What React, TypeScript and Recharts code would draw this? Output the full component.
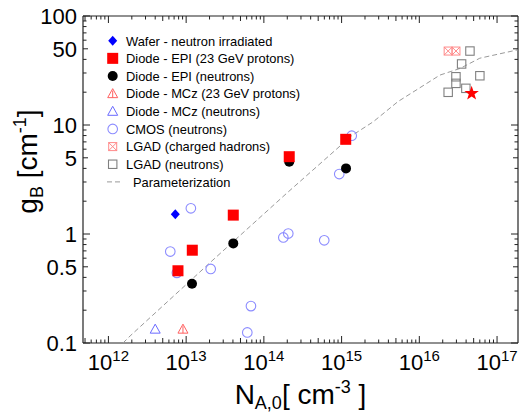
import React from 'react';
import { ScatterChart, Scatter, XAxis, YAxis, Legend, Label } from 'recharts';

const FONT = '"Liberation Sans", Arial, Helvetica, sans-serif';

// ---- data (N_A,0 [cm^-3], g_B [cm^-1]) ----
const waferData = [{ x: 7.25e12, y: 1.52 }];
const epiProtonData = [
  { x: 7.85e12, y: 0.46 },
  { x: 1.2e13, y: 0.71 },
  { x: 4.04e13, y: 1.49 },
  { x: 2.12e14, y: 5.12 },
  { x: 1.13e15, y: 7.39 },
];
const epiNeutronData = [
  { x: 1.19e13, y: 0.35 },
  { x: 4.04e13, y: 0.82 },
  { x: 2.12e14, y: 4.6 },
  { x: 1.14e15, y: 4.0 },
];
const mczProtonData = [{ x: 9.1e12, y: 0.134 }];
const mczNeutronData = [{ x: 4.0e12, y: 0.134 }];
const cmosData = [
  { x: 1.15e13, y: 1.72 },
  { x: 6.25e12, y: 0.69 },
  { x: 7.6e12, y: 0.44 },
  { x: 2.07e13, y: 0.478 },
  { x: 6.82e13, y: 0.218 },
  { x: 6.12e13, y: 0.125 },
  { x: 1.78e14, y: 0.93 },
  { x: 2.06e14, y: 1.01 },
  { x: 5.98e14, y: 0.875 },
  { x: 9.33e14, y: 3.55 },
  { x: 1.35e15, y: 7.98 },
];
const lgadChargedData = [
  { x: 2.35e16, y: 47.7 },
  { x: 2.96e16, y: 47.7 },
];
const lgadNeutronData = [
  { x: 4.48e16, y: 47.7 },
  { x: 3.5e16, y: 36.3 },
  { x: 2.96e16, y: 27.7 },
  { x: 2.96e16, y: 24.1 },
  { x: 6.01e16, y: 28.3 },
  { x: 2.35e16, y: 19.95 },
  { x: 3.97e16, y: 21.7 },
];
const starData = [{ x: 4.71e16, y: 19.5 }];
const paramData = [
  { x: 1.54e12, y: 0.1 },
  { x: 1.9e12, y: 0.116 },
  { x: 2.21e13, y: 0.577 },
  { x: 1.96e14, y: 2.36 },
  { x: 1.35e15, y: 7.98 },
  { x: 2.55e15, y: 10.7 },
  { x: 5.31e15, y: 16.4 },
  { x: 1.84e16, y: 28.7 },
  { x: 3.33e16, y: 33.0 },
  { x: 6.0e16, y: 41.0 },
  { x: 1.86e17, y: 49.0 },
];

// ---- axes ----
const xDomain = [4.71e11, 1.86e17];
const yDomain = [0.1, 100];
const xDecades = [1e11, 1e12, 1e13, 1e14, 1e15, 1e16, 1e17];
const yDecades = [0.1, 1, 10, 100];
const minorMultipliers = [1, 2, 3, 4, 5, 6, 7, 8, 9];
const yLabelTicks = [0.1, 0.5, 1, 5, 10, 50, 100];
const yLabels = ['0.1', '0.5', '1', '5', '10', '50', '100'];

const xTicks = xDecades
  .flatMap((d) => minorMultipliers.map((m) => m * d))
  .filter((v) => v >= xDomain[0] * 0.999 && v <= xDomain[1] * 1.001);
const yTicks = yDecades
  .flatMap((d) => minorMultipliers.map((m) => m * d))
  .filter((v) => v >= yDomain[0] * 0.999 && v <= yDomain[1] * 1.001);

const isDecade = (v: number) => Math.abs(Math.log10(v) - Math.round(Math.log10(v))) < 1e-6;
const isFive = (v: number) => {
  const m = v / Math.pow(10, Math.floor(Math.log10(v) + 1e-9));
  return Math.abs(m - 5) < 1e-6;
};
const tickLen = (v: number) => (isDecade(v) ? 7 : isFive(v) ? 5 : 3.5);
const AXIS_COLOR = '#222';

const XTickBottom = (props: any) => {
  const { x, y, payload } = props;
  const v = payload.value;
  const len = tickLen(v);
  const exp = Math.round(Math.log10(v));
  return (
    <g>
      <line x1={x} x2={x} y1={y} y2={y - len} stroke={AXIS_COLOR} strokeWidth={1} />
      {isDecade(v) && (
        <text x={x} y={y + 27} textAnchor="middle" fontSize={22} fontFamily={FONT} fill="#000">
          10
          <tspan dy={-9} fontSize={15}>{String(exp)}</tspan>
        </text>
      )}
    </g>
  );
};
const XTickTop = (props: any) => {
  const { x, y, payload } = props;
  const len = tickLen(payload.value);
  return <line x1={x} x2={x} y1={y} y2={y + len} stroke={AXIS_COLOR} strokeWidth={1} />;
};
const YTickLeft = (props: any) => {
  const { x, y, payload } = props;
  const v = payload.value;
  const len = tickLen(v);
  const idx = yLabelTicks.findIndex((t) => Math.abs(t - v) / t < 1e-6);
  return (
    <g>
      <line x1={x} x2={x + len} y1={y} y2={y} stroke={AXIS_COLOR} strokeWidth={1} />
      {idx >= 0 && (
        <text x={x - 6} y={y + 8} textAnchor="end" fontSize={22} fontFamily={FONT} fill="#000">
          {yLabels[idx]}
        </text>
      )}
    </g>
  );
};
const YTickRight = (props: any) => {
  const { x, y, payload } = props;
  const len = tickLen(payload.value);
  return <line x1={x} x2={x - len} y1={y} y2={y} stroke={AXIS_COLOR} strokeWidth={1} />;
};

// ---- marker shapes ----
const diamondShape = (cx: number, cy: number) => (
  <path d={`M${cx},${cy - 5} L${cx + 4.5},${cy} L${cx},${cy + 5} L${cx - 4.5},${cy} Z`} fill="#0000ff" />
);
const redSquareShape = (cx: number, cy: number) => (
  <rect x={cx - 5.5} y={cy - 5.5} width={11} height={11} fill="#ff0000" />
);
const blackDotShape = (cx: number, cy: number) => <circle cx={cx} cy={cy} r={5} fill="#000" />;
const triRedShape = (cx: number, cy: number) => (
  <g>
    <path d={`M${cx},${cy - 5} L${cx + 5},${cy + 4} L${cx - 5},${cy + 4} Z`} fill="none" stroke="#ff6060" strokeWidth={1} />
    <line x1={cx} x2={cx} y1={cy - 3} y2={cy + 4} stroke="#ff6060" strokeWidth={1} />
  </g>
);
const triBlueShape = (cx: number, cy: number) => (
  <path d={`M${cx},${cy - 5} L${cx + 5},${cy + 4} L${cx - 5},${cy + 4} Z`} fill="none" stroke="#6a6aff" strokeWidth={1} />
);
const cmosShape = (cx: number, cy: number) => (
  <circle cx={cx} cy={cy} r={4.8} fill="none" stroke="#8c8cff" strokeWidth={1.1} />
);
const lgadChargedShape = (cx: number, cy: number) => (
  <g stroke="#ff8a8a" strokeWidth={1} fill="none">
    <rect x={cx - 4} y={cy - 4} width={8} height={8} />
    <line x1={cx - 4} y1={cy - 4} x2={cx + 4} y2={cy + 4} />
    <line x1={cx - 4} y1={cy + 4} x2={cx + 4} y2={cy - 4} />
  </g>
);
const lgadNeutronShape = (cx: number, cy: number) => (
  <rect x={cx - 4.2} y={cy - 4.2} width={8.4} height={8.4} fill="none" stroke="#808080" strokeWidth={1.1} />
);
const starShape = (cx: number, cy: number) => {
  const R = 7.6;
  const r = 3.0;
  const pts: string[] = [];
  for (let i = 0; i < 10; i++) {
    const rad = i % 2 === 0 ? R : r;
    const a = -Math.PI / 2 + (i * Math.PI) / 5;
    pts.push(`${cx + rad * Math.cos(a)},${cy + rad * Math.sin(a)}`);
  }
  return <polygon points={pts.join(' ')} fill="#ff0000" />;
};
const wrap = (fn: (cx: number, cy: number) => React.ReactElement) => (p: any) => fn(p.cx, p.cy);

// ---- legend ----
const legendItems = [
  { label: 'Wafer - neutron irradiated', shape: diamondShape },
  { label: 'Diode - EPI (23 GeV protons)', shape: redSquareShape },
  { label: 'Diode - EPI (neutrons)', shape: blackDotShape },
  { label: 'Diode - MCz (23 GeV protons)', shape: triRedShape },
  { label: 'Diode - MCz (neutrons)', shape: triBlueShape },
  { label: 'CMOS (neutrons)', shape: cmosShape },
  { label: 'LGAD (charged hadrons)', shape: lgadChargedShape },
  { label: 'LGAD (neutrons)', shape: lgadNeutronShape },
];
const paramLabel = 'Parameterization';

const LegendContent = () => {
  const x0 = 112.7;
  const y0 = 40.7;
  const dy = 17.65;
  return (
    <svg width={360} height={200} style={{ position: 'absolute', left: 0, top: 0, overflow: 'visible' }}>
      {legendItems.map((it, i) => (
        <g key={it.label}>
          {it.shape(x0, y0 + i * dy)}
          <text x={126} y={y0 + i * dy + 4.8} fontSize={12.9} fontFamily={FONT} fill="#000">
            {it.label}
          </text>
        </g>
      ))}
      <line
        x1={107}
        x2={123}
        y1={y0 + 8 * dy}
        y2={y0 + 8 * dy}
        stroke="#9a9a9a"
        strokeWidth={1}
        strokeDasharray="5 3"
      />
      <text x={133} y={y0 + 8 * dy + 4.8} fontSize={12.9} fontFamily={FONT} fill="#000">
        {paramLabel}
      </text>
    </svg>
  );
};

const XTitle = (props: any) => {
  const vb = props.viewBox || { x: 83, y: 343, width: 435 };
  return (
    <text x={vb.x + vb.width / 2} y={343 + 61} textAnchor="middle" fontSize={28} fontFamily={FONT} fill="#000">
      N
      <tspan dy={5} fontSize={18}>A,0</tspan>
      <tspan dy={-5}>[ cm</tspan>
      <tspan dy={-11} fontSize={18}>-3</tspan>
      <tspan dy={11}> ]</tspan>
    </text>
  );
};
const YTitle = (props: any) => {
  const vb = props.viewBox || { x: 83, y: 16, height: 327 };
  const cx = 37;
  const cy = vb.y + vb.height / 2 - 18;
  return (
    <text
      x={cx}
      y={cy}
      transform={`rotate(-90 ${cx} ${cy})`}
      textAnchor="middle"
      fontSize={28}
      fontFamily={FONT}
      fill="#000"
    >
      g
      <tspan dy={6} fontSize={18}>B</tspan>
      <tspan dy={-6}> [cm</tspan>
      <tspan dy={-11} fontSize={18}>-1</tspan>
      <tspan dy={11}>]</tspan>
    </text>
  );
};

export default function App() {
  return (
    <div style={{ position: 'absolute', left: 0, top: 0, width: 520, height: 414, background: '#fff' }}>
      <ScatterChart width={520} height={414} margin={{ top: 15, right: 1, bottom: 70, left: 82 }}>
        <XAxis
          xAxisId="b"
          type="number"
          dataKey="x"
          scale="log"
          domain={xDomain}
          allowDataOverflow
          ticks={xTicks}
          interval={0}
          height={1}
          tickSize={0}
          tickMargin={0}
          tickLine={false}
          tick={<XTickBottom />}
          axisLine={{ stroke: AXIS_COLOR, strokeWidth: 1.2 }}
        >
          <Label content={<XTitle />} />
        </XAxis>
        <XAxis
          xAxisId="t"
          orientation="top"
          type="number"
          dataKey="x"
          scale="log"
          domain={xDomain}
          allowDataOverflow
          ticks={xTicks}
          interval={0}
          height={1}
          tickSize={0}
          tickMargin={0}
          tickLine={false}
          tick={<XTickTop />}
          axisLine={{ stroke: AXIS_COLOR, strokeWidth: 1.2 }}
        />
        <YAxis
          yAxisId="l"
          type="number"
          dataKey="y"
          scale="log"
          domain={yDomain}
          allowDataOverflow
          ticks={yTicks}
          interval={0}
          width={1}
          tickSize={0}
          tickMargin={0}
          tickLine={false}
          tick={<YTickLeft />}
          axisLine={{ stroke: AXIS_COLOR, strokeWidth: 1.2 }}
        >
          <Label content={<YTitle />} />
        </YAxis>
        <YAxis
          yAxisId="r"
          orientation="right"
          type="number"
          dataKey="y"
          scale="log"
          domain={yDomain}
          allowDataOverflow
          ticks={yTicks}
          interval={0}
          width={1}
          tickSize={0}
          tickMargin={0}
          tickLine={false}
          tick={<YTickRight />}
          axisLine={{ stroke: AXIS_COLOR, strokeWidth: 1.2 }}
        />
        <Scatter
          xAxisId="b"
          yAxisId="l"
          data={paramData}
          isAnimationActive={false}
          fill="#9a9a9a"
          line={{ stroke: '#9a9a9a', strokeWidth: 1, strokeDasharray: '5 3' }}
          lineType="joint"
          shape={() => <g />}
        />
        <Scatter xAxisId="b" yAxisId="l" data={cmosData} isAnimationActive={false} shape={wrap(cmosShape)} />
        <Scatter xAxisId="b" yAxisId="l" data={lgadNeutronData} isAnimationActive={false} shape={wrap(lgadNeutronShape)} />
        <Scatter xAxisId="b" yAxisId="l" data={lgadChargedData} isAnimationActive={false} shape={wrap(lgadChargedShape)} />
        <Scatter xAxisId="b" yAxisId="l" data={mczNeutronData} isAnimationActive={false} shape={wrap(triBlueShape)} />
        <Scatter xAxisId="b" yAxisId="l" data={mczProtonData} isAnimationActive={false} shape={wrap(triRedShape)} />
        <Scatter xAxisId="b" yAxisId="l" data={epiNeutronData} isAnimationActive={false} shape={wrap(blackDotShape)} />
        <Scatter xAxisId="b" yAxisId="l" data={epiProtonData} isAnimationActive={false} shape={wrap(redSquareShape)} />
        <Scatter xAxisId="b" yAxisId="l" data={waferData} isAnimationActive={false} shape={wrap(diamondShape)} />
        <Scatter xAxisId="b" yAxisId="l" data={starData} isAnimationActive={false} shape={wrap(starShape)} />
        <Legend
          content={<LegendContent />}
          layout="vertical"
          align="center"
          verticalAlign="middle"
          wrapperStyle={{ position: 'absolute', left: 0, top: 0, width: 1, height: 1 }}
        />
      </ScatterChart>
    </div>
  );
}
